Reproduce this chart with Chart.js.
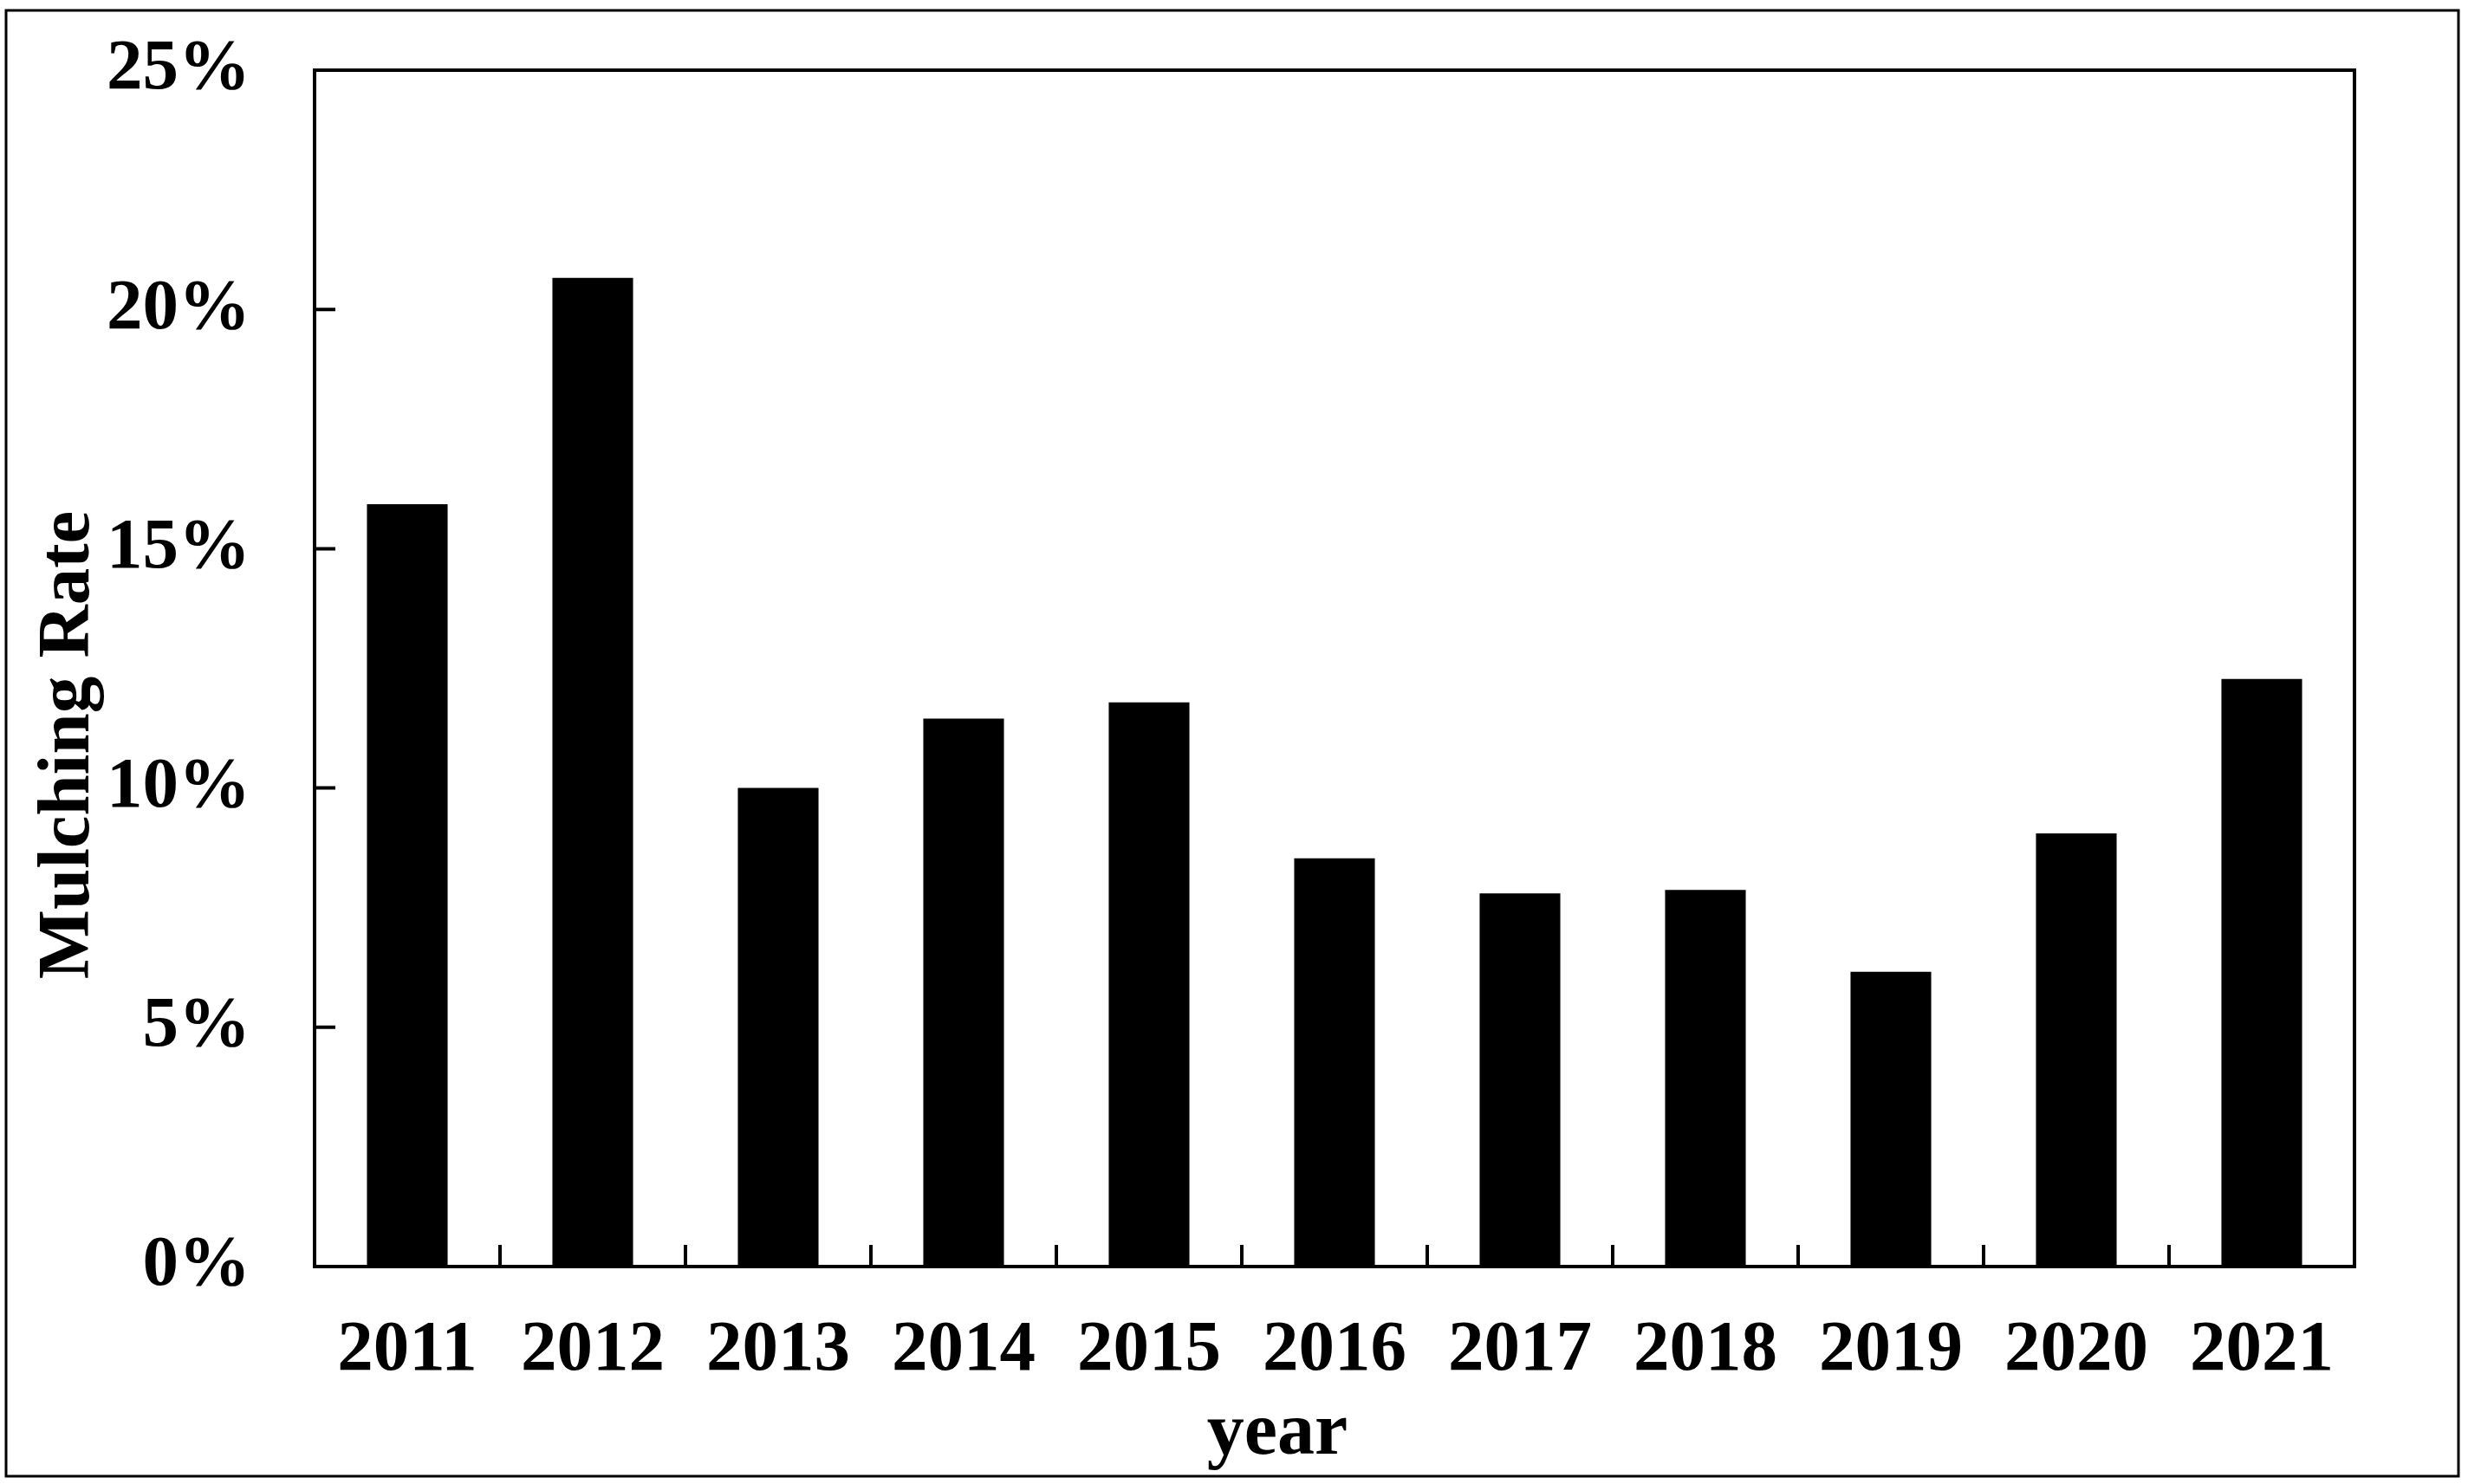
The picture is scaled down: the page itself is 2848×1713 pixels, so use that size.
<!DOCTYPE html>
<html>
<head>
<meta charset="utf-8">
<title>Mulching Rate</title>
<script src="https://cdn.jsdelivr.net/npm/chart.js"></script>
<style>
  body { margin: 0; background: #fff; }
  canvas { display: block; }
</style>
</head>
<body>
<canvas id="rateChart" width="2848" height="1713"></canvas>
<script>
const years = ['2011', '2012', '2013', '2014', '2015', '2016', '2017', '2018', '2019', '2020', '2021'];
const mulchingRate = [15.93, 20.66, 10.0, 11.45, 11.79, 8.53, 7.8, 7.87, 6.16, 9.05, 12.28];
const yTickValues = [0, 5, 10, 15, 20, 25];

const serif = "'Liberation Serif', 'Times New Roman', serif";

// outer frame, plot box, inward tick marks and the two axis titles
const framePlugin = {
    id: 'frame',
    afterDraw(chart) {
        const ctx = chart.ctx;
        const area = chart.chartArea;
        const xs = chart.scales.x;
        const ys = chart.scales.y;

        ctx.save();
        ctx.strokeStyle = '#000';
        ctx.lineWidth = 3;
        ctx.strokeRect(7, 12, 2830, 1692);

        ctx.lineWidth = 4;
        ctx.strokeRect(area.left, area.top, area.right - area.left, area.bottom - area.top);

        ctx.beginPath();
        ys.ticks.forEach(t => {
            const py = ys.getPixelForValue(t.value);
            ctx.moveTo(area.left, py);
            ctx.lineTo(area.left + 24, py);
        });
        for (let i = 1; i < years.length; i++) {
            const px = (xs.getPixelForValue(i - 1) + xs.getPixelForValue(i)) / 2;
            ctx.moveTo(px, area.bottom);
            ctx.lineTo(px, area.bottom - 25);
        }
        ctx.stroke();

        ctx.fillStyle = '#000';
        ctx.textAlign = 'center';
        ctx.textBaseline = 'alphabetic';
        ctx.font = 'bold 86px ' + serif;
        ctx.fillText('year', 1474, 1678);

        ctx.translate(102, 860);
        ctx.rotate(-Math.PI / 2);
        ctx.font = 'bold 85px ' + serif;
        ctx.fillText('Mulching Rate', 0, 0);
        ctx.restore();
    }
};

new Chart(document.getElementById('rateChart'), {
    type: 'bar',
    data: {
        labels: years,
        datasets: [{
            label: 'Mulching Rate',
            data: mulchingRate,
            backgroundColor: '#000',
            borderWidth: 0,
            barPercentage: 0.435,
            categoryPercentage: 1
        }]
    },
    options: {
        responsive: false,
        animation: false,
        layout: { padding: { top: 81, right: 131, left: 0, bottom: 0 } },
        plugins: {
            legend: { display: false },
            tooltip: { enabled: false }
        },
        scales: {
            x: {
                grid: { display: false, drawTicks: false },
                border: { display: false },
                ticks: {
                    color: '#000',
                    padding: 48,
                    maxRotation: 0,
                    font: { family: serif, size: 83, weight: 'bold' }
                },
                afterFit(scale) { scale.height = 251; }
            },
            y: {
                min: 0,
                max: 25,
                grid: { display: false, drawTicks: false },
                border: { display: false },
                afterBuildTicks(scale) { scale.ticks = yTickValues.map(v => ({ value: v })); },
                ticks: {
                    color: '#000',
                    padding: 74,
                    font: { family: serif, size: 83, weight: 'bold' },
                    callback: v => v + '%'
                },
                afterFit(scale) {
                    scale.width = 363;
                    // let the 25% label hang over the top margin
                    scale.paddingTop = 0;
                    scale.paddingBottom = 0;
                }
            }
        }
    },
    plugins: [framePlugin]
});
</script>
</body>
</html>
